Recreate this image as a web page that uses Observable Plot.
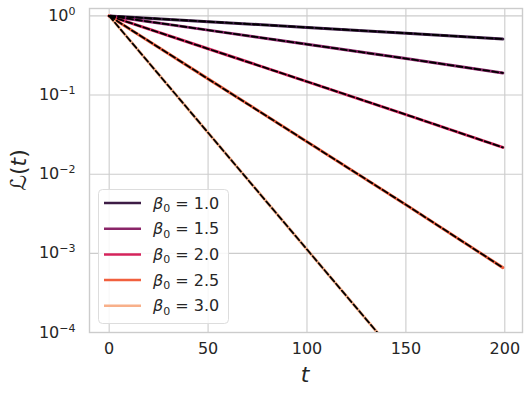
<!DOCTYPE html>
<html><head><meta charset="utf-8">
<script src="https://cdn.jsdelivr.net/npm/d3@7"></script>
<script src="https://cdn.jsdelivr.net/npm/@observablehq/plot@0.6"></script>
<style>
body{margin:0;background:#fff}
svg{font-family:"DejaVu Sans",sans-serif}
</style>
</head><body><div id="chart"></div>
<script>
// ---- data ----
const betaLabels = ["1.0", "1.5", "2.0", "2.5", "3.0"];
const seriesColors = ["#3d1c45", "#8a2568", "#d5235b", "#f1603e", "#f8b08a"];
const tSteps = [0, 50, 100, 150, 199];
const lossBeta10 = [1, 0.846, 0.715, 0.605, 0.51];
const lossBeta15 = [1, 0.661, 0.438, 0.289, 0.19];
const lossBeta20 = [1, 0.384, 0.148, 0.0567, 0.0218];
const lossBeta25 = [1, 0.160, 0.0257, 0.00412, 0.00066];
const tStepsBeta30 = [0, 50, 100, 140];
const lossBeta30 = [1, 0.0334, 0.00112, 0.000074];
const xTicks = [0, 50, 100, 150, 200];
const yTicks = [1, 0.1, 0.01, 0.001, 0.0001];
const yTickExponents = ["0", "−1", "−2", "−3", "−4"];

const seriesT = [tSteps, tSteps, tSteps, tSteps, tStepsBeta30];
const seriesL = [lossBeta10, lossBeta15, lossBeta20, lossBeta25, lossBeta30];
const rows = [];
betaLabels.forEach((b, k) => {
  seriesT[k].forEach((t, i) => rows.push({beta: b, t, L: seriesL[k][i]}));
});

const textColor = "#262626";
const gridColor = "#cccccc";

const plot = Plot.plot({
  width: 532, height: 397,
  marginLeft: 89, marginRight: 10, marginTop: 8, marginBottom: 65,
  style: {fontFamily: "DejaVu Sans", fontSize: "16px", color: textColor, background: "#fff"},
  x: {domain: [-9.95, 208.95]},
  y: {type: "log", domain: [1e-4, 1.24]},
  color: {domain: betaLabels, range: seriesColors},
  marks: [
    Plot.gridX(xTicks, {stroke: gridColor, strokeOpacity: 1, strokeWidth: 1.1}),
    Plot.gridY(yTicks, {stroke: gridColor, strokeOpacity: 1, strokeWidth: 1.1}),
    Plot.frame({stroke: gridColor, strokeWidth: 1.4}),
    Plot.axisX(xTicks, {tickSize: 0, tickPadding: 10, label: null, fontSize: 16, fill: textColor}),
    Plot.axisY(yTicks, {tickSize: 0, tickPadding: 14, label: null, fontSize: 16, fill: textColor,
      tickFormat: d => "10|" + yTickExponents[yTicks.indexOf(d)]}),
    Plot.line(rows, {x: "t", y: "L", z: "beta", stroke: "beta", strokeWidth: 3, clip: true}),
    Plot.line(rows, {x: "t", y: "L", z: "beta", stroke: "black", strokeWidth: 1.8, strokeDasharray: "6,3", clip: true})
  ]
});
document.getElementById("chart").appendChild(plot);

const svg = d3.select(plot);

// rebuild y tick labels as 10 with a superscript exponent
svg.selectAll('g[aria-label="y-axis tick label"] text').each(function () {
  const el = d3.select(this);
  const [base, exp] = el.text().split("|");
  el.text(null);
  el.append("tspan").text(base);
  el.append("tspan").attr("font-size", 11).attr("dy", -6).text(exp);
});

// axis labels
svg.append("text")
  .attr("x", 305).attr("y", 382)
  .attr("text-anchor", "middle")
  .attr("font-size", 22).attr("font-style", "italic").attr("fill", textColor)
  .text("t");
const yl = svg.append("text")
  .attr("transform", "translate(26,170) rotate(-90)")
  .attr("text-anchor", "middle")
  .attr("font-size", 22).attr("fill", textColor);
yl.append("tspan").text("ℒ(");
yl.append("tspan").attr("font-style", "italic").text("t");
yl.append("tspan").text(")");

// legend
const lg = svg.append("g");
lg.append("rect")
  .attr("x", 98.5).attr("y", 189.5).attr("width", 130).attr("height", 134)
  .attr("rx", 4).attr("fill", "#fff").attr("fill-opacity", 0.85)
  .attr("stroke", "#dddddd").attr("stroke-width", 1);
betaLabels.forEach((b, i) => {
  const yy = 203 + i * 25.7;
  lg.append("line").attr("x1", 104).attr("x2", 141).attr("y1", yy).attr("y2", yy)
    .attr("stroke", seriesColors[i]).attr("stroke-width", 2.5);
  const tx = lg.append("text").attr("x", 153).attr("y", yy + 5.5)
    .attr("text-anchor", "start")
    .attr("font-size", 16).attr("fill", textColor);
  tx.append("tspan").attr("font-style", "italic").text("β");
  tx.append("tspan").attr("font-size", 11).attr("dy", 3.5).text("0");
  tx.append("tspan").attr("dy", -3.5).text(" = " + b);
});
</script>
</body></html>
